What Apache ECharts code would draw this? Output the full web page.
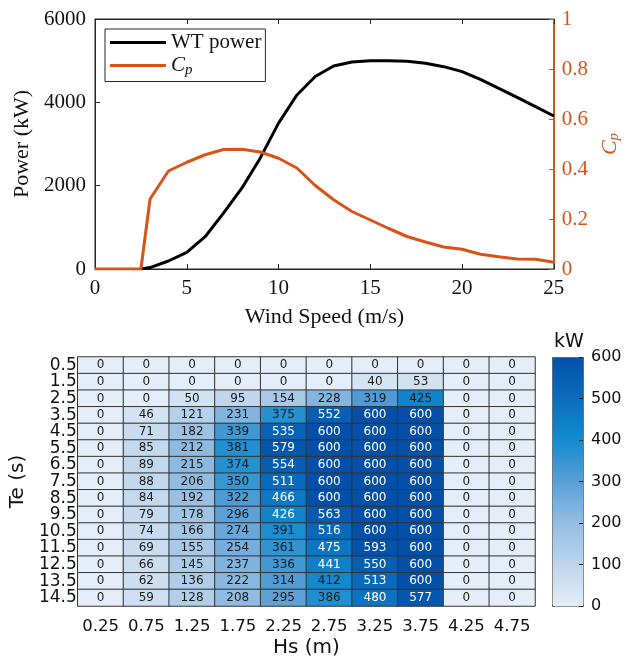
<!DOCTYPE html>
<html>
<head>
<meta charset="utf-8">
<script src="https://cdn.jsdelivr.net/npm/echarts@6/dist/echarts.min.js"></script>
<style>
html,body{margin:0;padding:0;background:#fff;}
#c{width:630px;height:659px;}
</style>
</head>
<body>
<div id="c"></div>
<script>
// ---- Top chart data ----
const windSpeed = [0, 1, 2, 2.5, 3, 4, 5, 6, 7, 8, 9, 10, 11, 12, 13, 14, 15, 16, 17, 18, 19, 20, 21, 22, 23, 24, 25];
const powerKW = [null, null, null, 0, 35, 192, 400, 775, 1340, 1940, 2660, 3500, 4175, 4620, 4872, 4968, 5000, 5000, 4984, 4936, 4856, 4736, 4552, 4336, 4120, 3896, 3672];
const cpValues = [0, 0, 0, 0, 0.28, 0.392, 0.427, 0.457, 0.478, 0.479, 0.468, 0.443, 0.404, 0.334, 0.277, 0.230, 0.196, 0.162, 0.130, 0.108, 0.088, 0.079, 0.059, 0.049, 0.040, 0.039, 0.027];

// ---- Heatmap data ----
const hsLabels = ['0.25', '0.75', '1.25', '1.75', '2.25', '2.75', '3.25', '3.75', '4.25', '4.75'];
const teLabels = ['0.5', '1.5', '2.5', '3.5', '4.5', '5.5', '6.5', '7.5', '8.5', '9.5', '10.5', '11.5', '12.5', '13.5', '14.5'];
const powerMatrix = [
  [0, 0, 0, 0, 0, 0, 0, 0, 0, 0],
  [0, 0, 0, 0, 0, 0, 40, 53, 0, 0],
  [0, 0, 50, 95, 154, 228, 319, 425, 0, 0],
  [0, 46, 121, 231, 375, 552, 600, 600, 0, 0],
  [0, 71, 182, 339, 535, 600, 600, 600, 0, 0],
  [0, 85, 212, 381, 579, 600, 600, 600, 0, 0],
  [0, 89, 215, 374, 554, 600, 600, 600, 0, 0],
  [0, 88, 206, 350, 511, 600, 600, 600, 0, 0],
  [0, 84, 192, 322, 466, 600, 600, 600, 0, 0],
  [0, 79, 178, 296, 426, 563, 600, 600, 0, 0],
  [0, 74, 166, 274, 391, 516, 600, 600, 0, 0],
  [0, 69, 155, 254, 361, 475, 593, 600, 0, 0],
  [0, 66, 145, 237, 336, 441, 550, 600, 0, 0],
  [0, 62, 136, 222, 314, 412, 513, 600, 0, 0],
  [0, 59, 128, 208, 295, 386, 480, 577, 0, 0]
];

const SERIF = '"Liberation Serif", "DejaVu Serif", serif';
const SANS = '"DejaVu Sans", Verdana, sans-serif';
const ORANGE = '#D95319';

const heatData = [];
powerMatrix.forEach((row, r) => {
  row.forEach((v, c) => {
    heatData.push({
      value: [c, r, v],
      label: { color: v > 425 ? '#ffffff' : '#1a1a1a' }
    });
  });
});

const chart = echarts.init(document.getElementById('c'), null, { renderer: 'canvas' });

const option = {
  animation: false,
  backgroundColor: '#fff',
  title: {
    text: 'kW', left: 554, top: 333, padding: 0,
    textStyle: { fontFamily: SANS, fontSize: 19, fontWeight: 'normal', color: '#111' }
  },
  grid: [
    { left: 95, top: 19, width: 459, height: 250, show: true, borderColor: '#262626', borderWidth: 1, backgroundColor: 'transparent' },
    { left: 77, top: 357, width: 458, height: 249 },
    { left: 552, top: 357, width: 31, height: 249 }
  ],
  legend: {
    data: ['WT power', 'Cp'],
    orient: 'vertical',
    left: 105,
    top: 29,
    padding: [3, 4, 4, 5],
    itemGap: 2,
    itemWidth: 56,
    itemHeight: 3,
    icon: 'rect',
    backgroundColor: '#fff',
    borderColor: '#262626',
    borderWidth: 1,
    formatter: function (name) { return name === 'Cp' ? '{i|C}{s|p}' : name; },
    textStyle: {
      fontFamily: SERIF, fontSize: 21, color: '#111',
      rich: {
        i: { fontFamily: SERIF, fontStyle: 'italic', fontSize: 21, color: '#111' },
        s: { fontFamily: SERIF, fontStyle: 'italic', fontSize: 15, color: '#111', padding: [9, 0, 0, 0] }
      }
    }
  },
  xAxis: [
    {
      gridIndex: 0, type: 'value', min: 0, max: 25, interval: 5, position: 'bottom',
      name: 'Wind Speed (m/s)', nameLocation: 'middle', nameGap: 37,
      nameTextStyle: { fontFamily: SERIF, fontSize: 22, color: '#111' },
      axisLine: { show: true, onZero: false, lineStyle: { color: '#262626', width: 1 } },
      axisTick: { show: true, inside: true, length: 5, lineStyle: { color: '#262626' } },
      minorTick: { show: false },
      axisLabel: { fontFamily: SERIF, fontSize: 21, color: '#111', margin: 9 },
      splitLine: { show: false }
    },
    {
      gridIndex: 0, type: 'value', min: 0, max: 25, interval: 5, position: 'top',
      axisLine: { show: true, onZero: false, lineStyle: { color: '#262626', width: 1 } },
      axisTick: { show: true, inside: true, length: 5, lineStyle: { color: '#262626' } },
      minorTick: { show: false },
      axisLabel: { show: false },
      splitLine: { show: false }
    },
    {
      gridIndex: 1, type: 'category', data: hsLabels, position: 'bottom',
      name: 'Hs (m)', nameLocation: 'middle', nameGap: 32,
      nameTextStyle: { fontFamily: SANS, fontSize: 20, color: '#111' },
      axisLine: { show: false, onZero: false },
      axisTick: { show: false },
      axisLabel: { fontFamily: SANS, fontSize: 16.5, color: '#111', margin: 12, interval: 0, hideOverlap: false },
      splitArea: { show: false }
    },
    {
      gridIndex: 2, type: 'value', show: false, min: 0, max: 1
    }
  ],
  yAxis: [
    {
      gridIndex: 0, type: 'value', min: 0, max: 6000, interval: 2000, position: 'left',
      name: 'Power (kW)', nameLocation: 'middle', nameGap: 55,
      nameTextStyle: { fontFamily: SERIF, fontSize: 22, color: '#111' },
      axisLine: { show: true, onZero: false, lineStyle: { color: '#262626', width: 1 } },
      axisTick: { show: true, inside: true, length: 5, lineStyle: { color: '#262626' } },
      minorTick: { show: false },
      axisLabel: { fontFamily: SERIF, fontSize: 21, color: '#111', margin: 9, formatter: v => String(v) },
      splitLine: { show: false }
    },
    {
      gridIndex: 0, type: 'value', min: 0, max: 1, interval: 0.2, position: 'right',
      name: '{i|C}{s|p}', nameLocation: 'middle', nameGap: 40,
      nameTextStyle: {
        color: ORANGE,
        rich: {
          i: { fontFamily: SERIF, fontStyle: 'italic', fontSize: 22, color: ORANGE },
          s: { fontFamily: SERIF, fontStyle: 'italic', fontSize: 15, color: ORANGE, padding: [9, 0, 0, 0] }
        }
      },
      axisLine: { show: true, onZero: false, lineStyle: { color: ORANGE, width: 1 } },
      axisTick: { show: true, inside: true, length: 5, lineStyle: { color: ORANGE } },
      minorTick: { show: false },
      axisLabel: { fontFamily: SERIF, fontSize: 21, color: ORANGE, margin: 8, formatter: v => String(Math.round(v * 10) / 10) },
      splitLine: { show: false }
    },
    {
      gridIndex: 1, type: 'category', data: teLabels, inverse: true,
      name: 'Te (s)', nameLocation: 'middle', nameGap: 46,
      nameTextStyle: { fontFamily: SANS, fontSize: 20, color: '#111' },
      axisLine: { show: false, onZero: false },
      axisTick: { show: false },
      axisLabel: { fontFamily: SANS, fontSize: 17, color: '#111', margin: 1, interval: 0, hideOverlap: false, lineHeight: 16 }
    },
    {
      gridIndex: 2, type: 'value', min: 0, max: 600, interval: 100, position: 'right', z: 10,
      axisLine: { show: false, onZero: false },
      axisTick: { show: true, inside: true, length: 4, lineStyle: { color: '#222' } },
      axisLabel: { fontFamily: SANS, fontSize: 16, color: '#111', margin: 8 },
      splitLine: { show: false }
    }
  ],
  visualMap: {
    type: 'continuous',
    min: 0, max: 600,
    seriesIndex: 2,
    calculable: false,
    left: 552, top: 357,
    itemWidth: 31, itemHeight: 249,
    padding: 0,
    text: null,
    showLabel: false,
    borderColor: '#555',
    borderWidth: 1,
    inRange: {
      color: ['#e5eef8', '#bdd5ec', '#95bee3', '#5b9fd6', '#148ccf', '#0a6dbe', '#0450a8']
    }
  },
  series: [
    {
      name: 'WT power', type: 'line', xAxisIndex: 0, yAxisIndex: 0,
      data: windSpeed.map((x, i) => [x, powerKW[i]]),
      showSymbol: false, symbol: 'none',
      lineStyle: { color: '#000', width: 3 },
      itemStyle: { color: '#000' },
      z: 3
    },
    {
      name: 'Cp', type: 'line', xAxisIndex: 0, yAxisIndex: 1,
      data: windSpeed.map((x, i) => [x, cpValues[i]]),
      showSymbol: false, symbol: 'none',
      lineStyle: { color: ORANGE, width: 3 },
      itemStyle: { color: ORANGE },
      z: 4
    },
    {
      name: 'Power matrix', type: 'heatmap', xAxisIndex: 2, yAxisIndex: 2,
      data: heatData,
      label: { show: true, fontFamily: SANS, fontSize: 12, formatter: p => String(p.value[2]) },
      itemStyle: { borderColor: '#333', borderWidth: 1 },
      emphasis: { disabled: true }
    }
  ]
};
chart.setOption(option);
</script>
</body>
</html>
